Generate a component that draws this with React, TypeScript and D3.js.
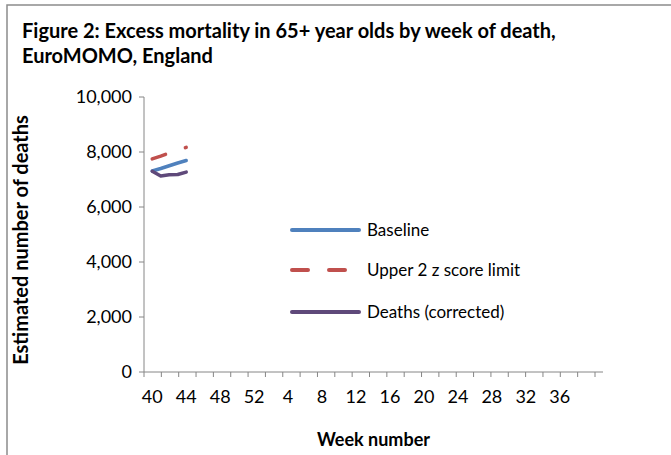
import React from 'react';
import * as d3 from 'd3';

// 53 category slots on the axis (season week 40 to week 40 of following year)
const weeks = ['40','41','42','43','44','45','46','47','48','49','50','51','52',
  '1','2','3','4','5','6','7','8','9','10','11','12','13','14','15','16','17','18','19','20',
  '21','22','23','24','25','26','27','28','29','30','31','32','33','34','35','36','37','38','39','40'];
const dataWeeks = ['40','41','42','43','44'];
const baseline = [7310, 7400, 7500, 7600, 7690];
const upperLimit = [7750, 7850, 7960, 8060, 8170];
const deaths = [7300, 7130, 7170, 7180, 7270];
const yTicks = [0, 2000, 4000, 6000, 8000, 10000];
const xLabelWeeks = ['40','44','48','52','4','8','12','16','20','24','28','32','36'];
const seriesNames = ['Baseline', 'Upper 2 z score limit', 'Deaths (corrected)'];
const titleLines = ['Figure 2: Excess mortality in 65+ year olds by week of death,', 'EuroMOMO, England'];

const W = 671, H = 455;
const FONT = "Lato, 'Open Sans', sans-serif";
const AXIS = '#868686';
const colors = ['#4F81BD', '#C0504D', '#5F497A'];
const chartDash = [null, '14 21', null];
const legendDash = [null, '16 21', null];

export default function App() {
  const AX = 144, AX_END = 603;
  const idx = d3.range(weeks.length);
  const x = d3.scaleBand<number>().domain(idx).range([148, 598]).padding(0);
  const tickX = d3.scaleLinear().domain([0, 26]).range([AX, 595]);
  const y = d3.scaleLinear().domain([0, 10000]).range([372, 97]);
  const bw = x.bandwidth();
  const posOf = (w: string) => (x(weeks.indexOf(w)) as number) + bw / 2;
  const line = d3.line<number>().x((_, i) => posOf(dataWeeks[i])).y(d => y(d));
  const series = [baseline, upperLimit, deaths];
  const fmt = d3.format(',');
  const legendY = [230, 270, 312];

  return (
    <div style={{ position: 'absolute', left: 0, top: 0 }}>
      <svg width={W} height={H} style={{ display: 'block', background: '#fff' }} fontFamily={FONT}>
        <rect x={7} y={5} width={W + 20} height={H + 20} fill="#fff" stroke="#8c8c8c" strokeWidth={1.5} />
        {titleLines.map((t, i) => (
          <text key={i} x={22} y={38 + i * 25} fontSize={20} fontWeight="bold" fill="#000">{t}</text>
        ))}
        {/* y axis */}
        <line x1={AX} x2={AX} y1={y(10000)} y2={y(0)} stroke={AXIS} strokeWidth={1} />
        {yTicks.map(t => (
          <g key={t}>
            <line x1={AX - 5} x2={AX} y1={y(t)} y2={y(t)} stroke={AXIS} />
            <text x={132} y={y(t)} dy="0.35em" textAnchor="end" fontSize={18} fill="#000">{fmt(t)}</text>
          </g>
        ))}
        {/* x axis */}
        <line x1={AX} x2={AX_END} y1={y(0)} y2={y(0)} stroke={AXIS} strokeWidth={1} />
        {d3.range(27).map(k => (
          <line key={k} x1={tickX(k)} x2={tickX(k)} y1={y(0)} y2={y(0) + 5} stroke={AXIS} />
        ))}
        {xLabelWeeks.map(w => (
          <text key={w} x={posOf(w)} y={397} dy="0.35em" textAnchor="middle" fontSize={18} fill="#000">{w}</text>
        ))}
        <text x={(AX + AX_END) / 2} y={446} textAnchor="middle" fontSize={18} fontWeight="bold" fill="#000">Week number</text>
        <text transform={`translate(28,240) rotate(-90)`} textAnchor="middle" fontSize={20} fontWeight="bold" fill="#000">Estimated number of deaths</text>
        {/* series */}
        {series.map((s, i) => (
          <path key={i} d={line(s) as string} fill="none" stroke={colors[i]} strokeWidth={3.5}
            strokeLinecap="round" strokeLinejoin="round" strokeDasharray={chartDash[i] ?? undefined} />
        ))}
        {/* legend */}
        {seriesNames.map((n, i) => (
          <g key={n}>
            <line x1={292} x2={359} y1={legendY[i]} y2={legendY[i]} stroke={colors[i]} strokeWidth={4}
              strokeLinecap="round" strokeDasharray={legendDash[i] ?? undefined} />
            <text x={367} y={legendY[i]} dy="0.35em" fontSize={17} fill="#000">{n}</text>
          </g>
        ))}
      </svg>
    </div>
  );
}
